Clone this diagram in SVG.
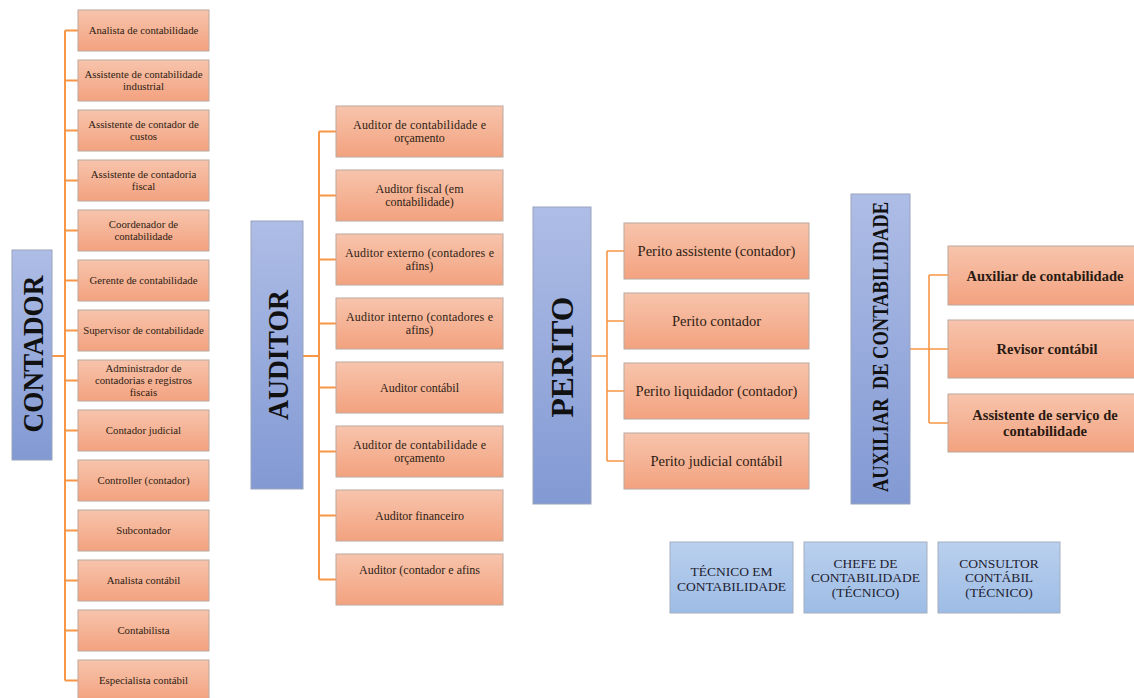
<svg xmlns="http://www.w3.org/2000/svg" width="1134" height="698" viewBox="0 0 1134 698">
  <defs>
    <linearGradient id="gOrange" x1="0" y1="0" x2="0" y2="1">
      <stop offset="0" stop-color="#F7C4AC"/>
      <stop offset="1" stop-color="#F3A27F"/>
    </linearGradient>
    <linearGradient id="gBlue" x1="0" y1="0" x2="0" y2="1">
      <stop offset="0" stop-color="#AEBDE6"/>
      <stop offset="1" stop-color="#8299D3"/>
    </linearGradient>
    <linearGradient id="gLight" x1="0" y1="0" x2="0" y2="1">
      <stop offset="0" stop-color="#BAD0EE"/>
      <stop offset="1" stop-color="#9DBCE5"/>
    </linearGradient>
  </defs>
  <style>
    .leaf { fill: url(#gOrange); stroke: #BBA89E; stroke-width: 1; }
    .head { fill: url(#gBlue); stroke: #9AA3BD; stroke-width: 1; }
    .tech { fill: url(#gLight); stroke: #A4AEC0; stroke-width: 1; }
    text { font-family: "Liberation Serif", "Times New Roman", serif; text-anchor: middle; }
    .t1 { font-size: 10.8px; fill: #2E1D14; }
    .t2 { font-size: 12px; fill: #2E1D14; }
    .t3 { font-size: 14.5px; fill: #2E1D14; }
    .t4 { font-size: 14.5px; font-weight: bold; fill: #2A1A12; }
    .t5 { font-size: 13.5px; fill: #1E2230; }
    .big { font-weight: bold; fill: #111; dominant-baseline: central; }
    .conn { stroke: #F79646; stroke-width: 2; fill: none; }
    .conn2 { stroke: #F79646; stroke-width: 1.6; fill: none; }
  </style>

  <!-- connectors -->
  <g id="connectors">
    <!-- CONTADOR tree -->
    <path class="conn" d="M52 356H65M65 30.5V680.5
      M65 30.5H78M65 80.5H78M65 130.5H78M65 180.5H78M65 230.5H78M65 280.5H78M65 330.5H78
      M65 380.5H78M65 430.5H78M65 480.5H78M65 530.5H78M65 580.5H78M65 630.5H78M65 680.5H78"/>
    <!-- AUDITOR tree -->
    <path class="conn" d="M303 356H319M319 131.5V579.5
      M319 131.5H336M319 195.5H336M319 259.5H336M319 323.5H336
      M319 387.5H336M319 451.5H336M319 515.5H336M319 579.5H336"/>
    <!-- PERITO tree -->
    <path class="conn2" d="M591 356H607M607 251V461
      M607 251H624M607 321H624M607 391H624M607 461H624"/>
    <!-- AUXILIAR tree -->
    <path class="conn2" d="M910 349H929M929 275V423
      M929 275H948M929 349H948M929 423H948"/>
  </g>

  <!-- CONTADOR -->
  <g id="contador">
    <rect class="head" x="12" y="250" width="40" height="210"/>
    <text class="big" font-size="30" transform="translate(32 354) rotate(-90)" textLength="157" lengthAdjust="spacingAndGlyphs">CONTADOR</text>
  </g>
  <g id="c01"><rect class="leaf" x="78" y="10" width="131" height="41"/><text class="t1" x="143.5" y="34.2">Analista de contabilidade</text></g>
  <g id="c02"><rect class="leaf" x="78" y="60" width="131" height="41"/><text class="t1" x="143.5" y="78.4">Assistente de contabilidade</text><text class="t1" x="143.5" y="90.1">industrial</text></g>
  <g id="c03"><rect class="leaf" x="78" y="110" width="131" height="41"/><text class="t1" x="143.5" y="128.4">Assistente de contador de</text><text class="t1" x="143.5" y="140.1">custos</text></g>
  <g id="c04"><rect class="leaf" x="78" y="160" width="131" height="41"/><text class="t1" x="143.5" y="178.4">Assistente de contadoria</text><text class="t1" x="143.5" y="190.1">fiscal</text></g>
  <g id="c05"><rect class="leaf" x="78" y="210" width="131" height="41"/><text class="t1" x="143.5" y="228.4">Coordenador de</text><text class="t1" x="143.5" y="240.1">contabilidade</text></g>
  <g id="c06"><rect class="leaf" x="78" y="260" width="131" height="41"/><text class="t1" x="143.5" y="284.2">Gerente de contabilidade</text></g>
  <g id="c07"><rect class="leaf" x="78" y="310" width="131" height="41"/><text class="t1" x="143.5" y="334.2">Supervisor de contabilidade</text></g>
  <g id="c08"><rect class="leaf" x="78" y="360" width="131" height="41"/><text class="t1" x="143.5" y="372.2">Administrador de</text><text class="t1" x="143.5" y="384">contadorias e registros</text><text class="t1" x="143.5" y="395.8">fiscais</text></g>
  <g id="c09"><rect class="leaf" x="78" y="410" width="131" height="41"/><text class="t1" x="143.5" y="434.2">Contador judicial</text></g>
  <g id="c10"><rect class="leaf" x="78" y="460" width="131" height="41"/><text class="t1" x="143.5" y="484.2">Controller (contador)</text></g>
  <g id="c11"><rect class="leaf" x="78" y="510" width="131" height="41"/><text class="t1" x="143.5" y="534.2">Subcontador</text></g>
  <g id="c12"><rect class="leaf" x="78" y="560" width="131" height="41"/><text class="t1" x="143.5" y="584.2">Analista contábil</text></g>
  <g id="c13"><rect class="leaf" x="78" y="610" width="131" height="41"/><text class="t1" x="143.5" y="634.2">Contabilista</text></g>
  <g id="c14"><rect class="leaf" x="78" y="660" width="131" height="41"/><text class="t1" x="143.5" y="684.2">Especialista contábil</text></g>

  <!-- AUDITOR -->
  <g id="auditor">
    <rect class="head" x="251" y="221" width="52" height="268"/>
    <text class="big" font-size="30" transform="translate(277 355) rotate(-90)" textLength="130" lengthAdjust="spacingAndGlyphs">AUDITOR</text>
  </g>
  <g id="a01"><rect class="leaf" x="336" y="106" width="167" height="51"/><text class="t2" x="419.5" y="129" textLength="133" lengthAdjust="spacing">Auditor de contabilidade e</text><text class="t2" x="419.5" y="142">orçamento</text></g>
  <g id="a02"><rect class="leaf" x="336" y="170" width="167" height="51"/><text class="t2" x="419.5" y="193">Auditor fiscal (em</text><text class="t2" x="419.5" y="206">contabilidade)</text></g>
  <g id="a03"><rect class="leaf" x="336" y="234" width="167" height="51"/><text class="t2" x="419.5" y="257" textLength="149" lengthAdjust="spacing">Auditor externo (contadores e</text><text class="t2" x="419.5" y="270">afins)</text></g>
  <g id="a04"><rect class="leaf" x="336" y="298" width="167" height="51"/><text class="t2" x="419.5" y="321" textLength="147" lengthAdjust="spacing">Auditor interno (contadores e</text><text class="t2" x="419.5" y="334">afins)</text></g>
  <g id="a05"><rect class="leaf" x="336" y="362" width="167" height="51"/><text class="t2" x="419.5" y="391.5">Auditor contábil</text></g>
  <g id="a06"><rect class="leaf" x="336" y="426" width="167" height="51"/><text class="t2" x="419.5" y="449" textLength="133" lengthAdjust="spacing">Auditor de contabilidade e</text><text class="t2" x="419.5" y="462">orçamento</text></g>
  <g id="a07"><rect class="leaf" x="336" y="490" width="167" height="51"/><text class="t2" x="419.5" y="519.5">Auditor financeiro</text></g>
  <g id="a08"><rect class="leaf" x="336" y="554" width="167" height="51"/><text class="t2" x="419.5" y="574">Auditor (contador e afins</text></g>

  <!-- PERITO -->
  <g id="perito">
    <rect class="head" x="533" y="207" width="58" height="297"/>
    <text class="big" font-size="31" transform="translate(562 357) rotate(-90)" textLength="121" lengthAdjust="spacingAndGlyphs">PERITO</text>
  </g>
  <g id="p01"><rect class="leaf" x="624" y="223" width="185" height="56"/><text class="t3" x="716.5" y="256">Perito assistente (contador)</text></g>
  <g id="p02"><rect class="leaf" x="624" y="293" width="185" height="56"/><text class="t3" x="716.5" y="326">Perito contador</text></g>
  <g id="p03"><rect class="leaf" x="624" y="363" width="185" height="56"/><text class="t3" x="716.5" y="396">Perito liquidador (contador)</text></g>
  <g id="p04"><rect class="leaf" x="624" y="433" width="185" height="56"/><text class="t3" x="716.5" y="466">Perito judicial contábil</text></g>

  <!-- AUXILIAR DE CONTABILIDADE -->
  <g id="auxiliar">
    <rect class="head" x="851" y="194" width="59" height="310"/>
    <text class="big" font-size="24" transform="translate(880 347) rotate(-90)" textLength="290" lengthAdjust="spacingAndGlyphs" xml:space="preserve">AUXILIAR  DE CONTABILIDADE</text>
  </g>
  <g id="x01"><rect class="leaf" x="948" y="246" width="196" height="59"/><text class="t4" x="1045" y="281">Auxiliar de contabilidade</text></g>
  <g id="x02"><rect class="leaf" x="948" y="320" width="196" height="58"/><text class="t4" x="1047" y="354">Revisor contábil</text></g>
  <g id="x03"><rect class="leaf" x="948" y="394" width="196" height="58"/><text class="t4" x="1045" y="420">Assistente de serviço de</text><text class="t4" x="1045" y="436">contabilidade</text></g>

  <!-- technician roles -->
  <g id="tecnico"><rect class="tech" x="670" y="542" width="123" height="71"/><text class="t5" x="731.5" y="575.5">TÉCNICO EM</text><text class="t5" x="731.5" y="590.5">CONTABILIDADE</text></g>
  <g id="chefe"><rect class="tech" x="804" y="542" width="123" height="71"/><text class="t5" x="865.5" y="567.5">CHEFE DE</text><text class="t5" x="865.5" y="582">CONTABILIDADE</text><text class="t5" x="865.5" y="596.5">(TÉCNICO)</text></g>
  <g id="consultor"><rect class="tech" x="938" y="542" width="122" height="71"/><text class="t5" x="999" y="567.5">CONSULTOR</text><text class="t5" x="999" y="582">CONTÁBIL</text><text class="t5" x="999" y="596.5">(TÉCNICO)</text></g>
</svg>
